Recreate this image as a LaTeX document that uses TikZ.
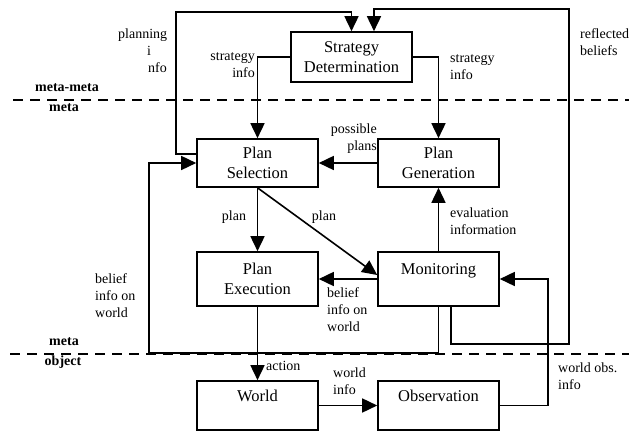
\documentclass[tikz,border=0pt]{standalone}
\usepackage{fontspec}
\setmainfont{Liberation Serif}
\usetikzlibrary{arrows.meta,calc}

\tikzset{
  box/.style={draw, line width=1.6pt, minimum width=121pt, minimum height=50pt,
    inner sep=0pt, align=center, font=\fontsize{16.5}{20}\selectfont},
  arr/.style={line width=1.6pt, -{Triangle[length=15pt,width=14pt]}},
  lbl/.style={inner sep=0pt, font=\fontsize{14}{17}\selectfont},
  lvl/.style={inner sep=0pt, font=\fontsize{14}{17}\selectfont\bfseries},
  sep/.style={line width=2pt, dash pattern=on 10pt off 7pt}
}

\begin{document}
\begin{tikzpicture}[x=1pt, y=1pt]

  \useasboundingbox (0,0) rectangle (629,431);

  \newcommand\XL{257.5}
  \newcommand\XR{438.5}

  % level separators
  \draw[sep] (13,331) -- (629,331);
  \draw[sep] (10,77) -- (629,77);

  \node[lvl] (mm) at (67,343) {meta-meta};
  \node[lvl] (m1) at (64,323) {meta};
  \node[lvl] (m2) at (64,89) {meta};
  \node[lvl] (ob) at (63,69) {object};

  % boxes
  \node[box] (strat) at (351.5,374) {Strategy\\Determination};
  \node[box, minimum height=48pt] (sel) at (\XL,268) {Plan\\Selection};
  \node[box, minimum height=48pt] (gen) at (\XR,268) {Plan\\Generation};
  \node[box, minimum height=54pt] (exec) at (\XL,152) {Plan\\Execution};
  \node[box, minimum height=54pt] (mon) at (\XR,152) {Monitoring\\~};
  \node[box, minimum height=49pt] (world) at (\XL,25.5) {World\\~};
  \node[box, minimum height=49pt] (obs) at (\XR,25.5) {Observation\\~};

  \coordinate (c1) at (176,419);
  \coordinate (c2) at (149,78);
  \coordinate (c3) at (548,152);
  \coordinate (c4) at (569,87);
  \coordinate (c5) at (569,422);

  % meta-meta level
  \draw[arr] ([yshift=9pt]sel.west) -| (c1) -| (strat.north);
  \draw[arr] (strat.west) -| (sel.north);
  \draw[arr] (strat.east) -| (gen.north);
  \draw[arr] ([xshift=12.5pt]mon.south) |- (c4) -- (c5)
    -| ([xshift=22.5pt]strat.north);

  % meta level
  \draw[arr] (gen.west) -- (sel.east);
  \draw[arr] (sel.south) -- (exec.north);
  \draw[arr] (sel.south) -- ([yshift=4pt]mon.west);
  \draw[arr] (mon.west) -- (exec.east);
  \draw[arr] (mon.north) -- (gen.south);
  \draw[arr] (mon.south) |- (c2) |- (sel.west);

  % object level
  \draw[arr] (exec.south) -- (world.north);
  \draw[arr] (world.east) -- (obs.west);
  \draw[arr] (obs.east) -| (c3) -- (mon.east);

  % labels
  \node[lbl, anchor=north west, align=left] (lplan) at (118,402)
    {planning\\\hspace*{29pt}i\\\hspace*{30pt}nfo};
  \node[lbl, anchor=north east, align=right] (lsl) at (255,379) {strategy\\info};
  \node[lbl, anchor=north west, align=left] (lsr) at (450,377) {strategy\\info};
  \node[lbl, anchor=north east, align=right] (lpp) at (377,307) {possible\\plans};
  \node[lbl] (lp1) at (234,214) {plan};
  \node[lbl] (lp2) at (324,214) {plan};
  \node[lbl, anchor=north west, align=left] (lbw) at (327,144) {belief\\info on\\world};
  \node[lbl, anchor=north west, align=left] (lev) at (450,223) {evaluation\\information};
  \node[lbl, anchor=north west, align=left] (lbl2) at (95,158) {belief\\info on\\world};
  \node[lbl, anchor=west] (lact) at (266,65) {action};
  \node[lbl, anchor=north west, align=left] (lwi) at (333,63) {world\\info};
  \node[lbl, anchor=north west, align=left] (lwo) at (558,68) {world obs.\\info};
  \node[lbl, anchor=north west, align=left] (lrb) at (580,403) {reflected\\beliefs};

\end{tikzpicture}
\end{document}
